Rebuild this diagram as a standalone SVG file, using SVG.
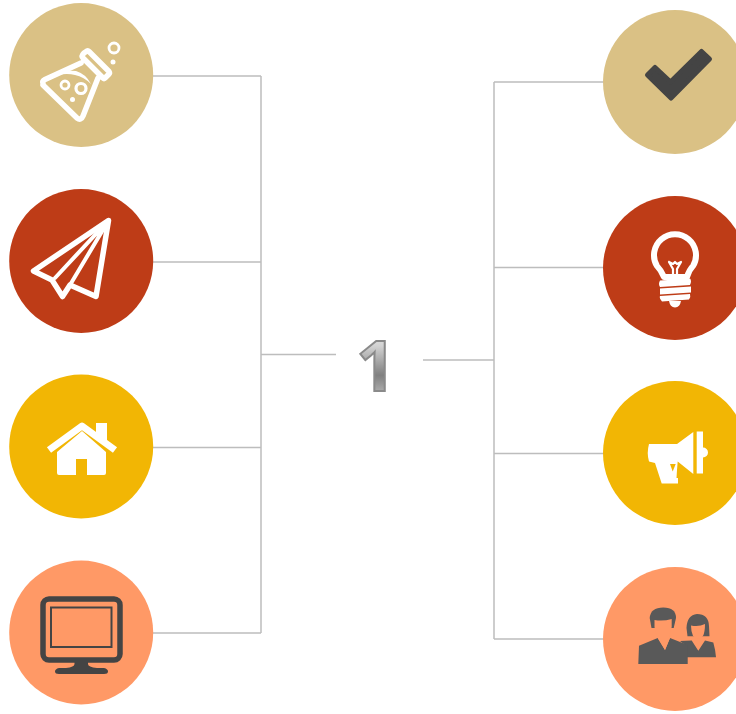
<svg xmlns="http://www.w3.org/2000/svg" width="736" height="714" viewBox="0 0 736 714">
<style>
.tan{fill:#dac185}.red{fill:#be3c17}.yel{fill:#f2b604}.org{fill:#ff9966}
.wl{fill:none;stroke:#fff;stroke-linejoin:round;stroke-linecap:round}
.wf{fill:#fff}.dk{fill:#444}.pp{fill:#595959}
#connectors path{fill:none;stroke:#bdbdbd;stroke-width:1.500}
</style>
<defs>
<linearGradient id="metal" x1="0" y1="0" x2="0" y2="1">
<stop offset="0" stop-color="#f0f0f0"/><stop offset="0.3" stop-color="#d4d4d4"/><stop offset="0.62" stop-color="#808080"/><stop offset="1" stop-color="#e0e0e0"/>
</linearGradient>
</defs>
<rect width="736" height="714" fill="#fff"/>
<g id="connectors">
<path d="M153 76H261M153 262H261M153 447.500H261M153 633H261M261 76V633M261 354.500H336"/>
<path d="M423 360H494M494 82H604M494 267.500H604M494 453.500H604M494 639H604M494 82V639"/>
</g>
<g id="flask">
<circle class="tan" cx="81.200" cy="75" r="72"/>
<path class="wl" stroke-width="5.500" d="M43 83.500Q42 81 45 79.500L81 63M84 53L87 51Q88 50.500 89 51.500L109 71.500Q110 73 109 74L105 78Q104 79 103 78L83 58Q81 56 84 53ZM98 78L83 116Q81 121 77 118L43 85"/>
<path class="wf" d="M46 79Q62 69 76 71Q86 74 91 84Q84 77 75 75Q62 72 46 79Z"/>
<circle class="wl" stroke-width="2.800" cx="65" cy="85" r="4"/>
<circle class="wl" stroke-width="3.200" cx="81" cy="88.500" r="5"/>
<circle class="wf" cx="72.500" cy="99.500" r="2.500"/>
<circle class="wl" stroke-width="2.800" cx="114" cy="48" r="5"/>
<circle class="wf" cx="113" cy="62" r="2.500"/>
</g>
<g id="plane">
<circle class="red" cx="81.200" cy="261" r="72"/>
<path class="wl" stroke-width="5.500" d="M108.500 220.500L33.500 271L52 280L62.500 296.500L70 285L96 296.500Z"/>
<path class="wl" stroke-width="4" d="M108.500 220.500L55 278M108.500 220.500L70 285"/>
</g>
<g id="home">
<circle class="yel" cx="81.200" cy="446.500" r="72"/>
<path class="wf" d="M96 423H107V441L96 433Z"/>
<path class="wl" stroke-width="7" style="stroke-linecap:butt;stroke-linejoin:round" d="M49 450L82 426L115 450"/>
<path class="wf" d="M57 452L82 431L106 452V473Q106 475 104 475H87V459H76V475H59Q57 475 57 473Z"/>
</g>
<g id="monitor">
<circle class="org" cx="81.200" cy="632.500" r="72"/>
<rect x="43" y="599" width="77" height="61" rx="6" fill="none" stroke="#444" stroke-width="5.500"/>
<rect x="51" y="607.500" width="60.500" height="39.500" fill="none" stroke="#444" stroke-width="2"/>
<path class="dk" d="M74.500 661H88V664Q88 667 97 668H104Q108 669 108 671.500Q108 674 104 674H59Q55 674 55 671.500Q55 669 59 668H66Q74.500 667 74.500 664Z"/>
</g>
<g id="center">
<text x="376" y="391" text-anchor="middle" font-family="'Open Sans',sans-serif" font-weight="700" font-size="69" fill="url(#metal)" stroke="#8a8a8a" stroke-width="2">1</text>
</g>
<g id="check">
<circle class="tan" cx="675" cy="82" r="72"/>
<path class="dk" stroke="#444" stroke-width="5" stroke-linejoin="round" d="M647.500 75L655 67.500L670.500 82L701.500 51.500L709.500 59L671 98Z"/>
</g>
<g id="bulb">
<circle class="red" cx="675" cy="268" r="72"/>
<path class="wl" stroke-width="6" d="M664 277Q661 270 657 266A21 21 0 1 1 693 266Q689 270 687 277Z"/>
<path class="wl" stroke-width="2.200" d="M669 262L673 264L675 262L677 264L681 262L677 269V277M673 277V269L669 262"/>
<path class="wf" d="M660 280.500L690 278.500Q692 281 690 285L660 287Q658 284 660 280.500ZM660 288.500L691 286.500V292.500L660 294.500ZM660 296L690 294Q691 297 689 299.500L662 301.500Q659 298 660 296Z"/>
<path class="wf" d="M669 301H681Q680 307 675 307.500Q670 307 669 301Z"/>
</g>
<g id="megaphone">
<circle class="yel" cx="675" cy="453" r="72"/>
<path class="wf" d="M649 444H677L693.300 432V474L677.700 461.500L677 470L676.500 478H678V483.500H661.700L655 463L649 461.500Q646.500 453 649 444Z"/>
<path class="yel" d="M670 464H675.700L672.700 471.500Z"/>
<path class="wf" d="M696.700 431.500H703V447.500A5 5 0 0 1 703 457.500V473.500H696.700Z"/>
</g>
<g id="people">
<circle class="org" cx="675" cy="639" r="72"/>
<path class="pp" d="M680 641L691.700 640.500L698.300 650.700L705 640.500L713.300 642.500Q715.500 650 716 657.300H685V645Z"/>
<path class="pp" d="M697 614Q708.500 614 709 626L709.500 636.300H703L692 636.300H687.500L686.500 628Q687 615 697 614Z"/>
<path class="org" d="M691 625.500Q699 627 705 624Q705 632 703 636Q698 641 693 636Q691 632 691 625.500Z"/>
<path class="pp" d="M638.300 664L639 645.700L657.700 638L665 650L670 638L687.700 645V664Z"/>
<path class="pp" d="M663.300 607.500Q676 607.500 676 618L673.700 628H651.500L649.700 618Q650.500 607.500 663.300 607.500Z"/>
<path class="org" d="M654.500 620Q663 621.500 671.700 619V627Q670.500 632 669 636L670 638L665 650L657.700 638L657 636Q655 632 654.500 627Z"/>
</g>
</svg>
